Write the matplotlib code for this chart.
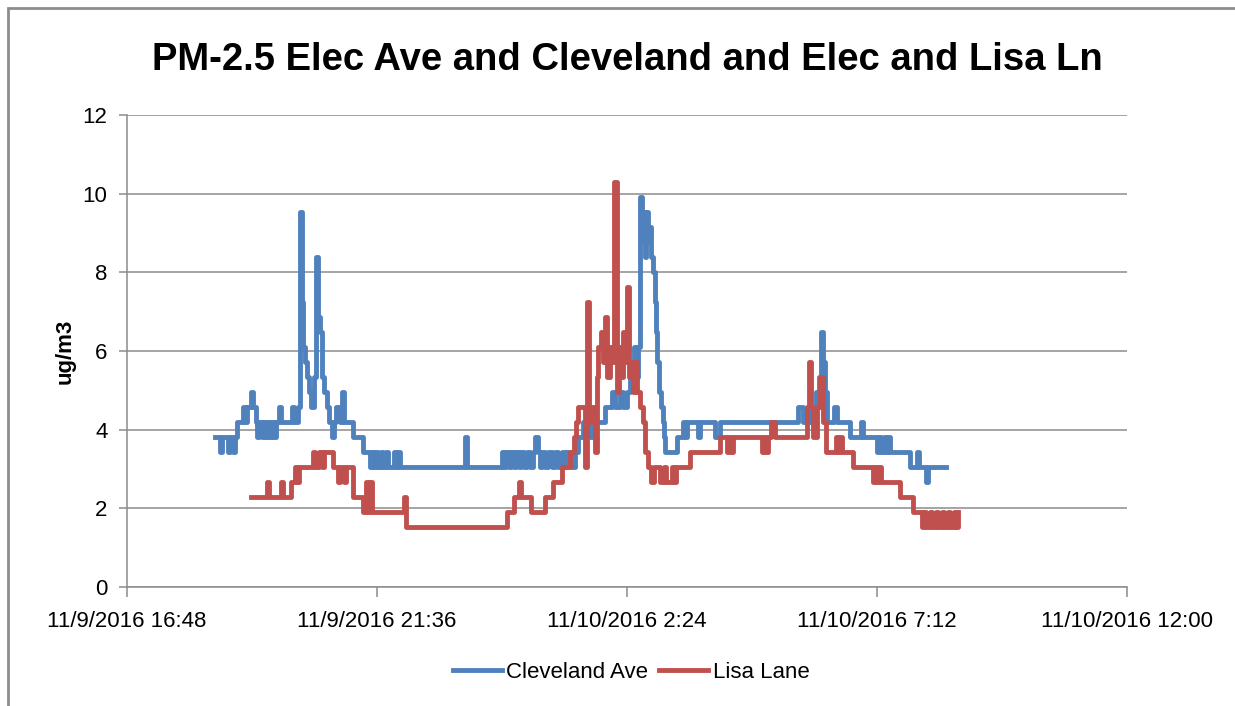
import datetime as dt
import matplotlib
matplotlib.use('Agg')
import matplotlib.pyplot as plt
import matplotlib.dates as mdates
from matplotlib.patches import Rectangle
from matplotlib.ticker import FuncFormatter

# time axis: minutes after 11/9/2016 16:48
START = dt.datetime(2016, 11, 9, 16, 48)

cleveland_min = [101, 107, 109, 116, 119, 122, 124, 127, 134, 136, 138, 143, 145, 149, 150,
                 152, 156, 158, 160, 162, 165, 167, 169, 172, 175, 177, 190, 192, 197, 199,
                 202, 203, 205, 207, 210, 212, 215, 218, 220, 222, 225, 227, 230, 233, 236,
                 238, 241, 245, 248, 250, 260, 272, 280, 282, 285, 287, 289, 293, 295, 298,
                 301, 308, 310, 312, 314, 389, 392, 432, 434, 437, 440, 442, 446, 448, 452,
                 454, 457, 461, 464, 468, 470, 473, 476, 478, 482, 485, 490, 493, 497, 501,
                 505, 507, 513, 516, 520, 525, 529, 533, 536, 551, 559, 562, 568, 571, 576,
                 579, 584, 586, 589, 591, 593, 594, 597, 598, 600, 601, 604, 606, 608, 609,
                 611, 613, 615, 617, 619, 620, 634, 641, 643, 645, 658, 660, 677, 683, 773,
                 779, 785, 787, 794, 797, 800, 802, 804, 806, 814, 818, 833, 846, 848, 864,
                 866, 869, 872, 874, 877, 879, 902, 910, 912, 920, 923, 943]
cleveland_val = [3.82, 3.44, 3.82, 3.44, 3.82, 3.44, 3.82, 4.2, 4.58, 4.2, 4.58, 4.96, 4.58, 4.2, 3.82,
                 4.2, 3.82, 4.2, 3.82, 4.2, 3.82, 4.2, 3.82, 4.2, 4.58, 4.2, 4.58, 4.2, 4.58, 9.54,
                 7.25, 6.11, 5.73, 5.35, 4.96, 4.58, 5.35, 8.4, 6.87, 6.49, 5.35, 4.96, 4.58, 4.2, 3.82,
                 4.2, 4.58, 4.2, 4.96, 4.2, 3.82, 3.44, 3.05, 3.44, 3.05, 3.44, 3.05, 3.44, 3.05, 3.44,
                 3.05, 3.44, 3.05, 3.44, 3.05, 3.82, 3.05, 3.44, 3.05, 3.44, 3.05, 3.44, 3.05, 3.44, 3.05,
                 3.44, 3.05, 3.44, 3.05, 3.44, 3.82, 3.44, 3.05, 3.44, 3.05, 3.44, 3.05, 3.44, 3.05, 3.44,
                 3.05, 3.44, 3.05, 3.44, 3.82, 4.2, 4.58, 3.82, 4.2, 4.58, 4.96, 4.58, 4.96, 4.58, 4.96,
                 5.73, 6.11, 5.35, 6.11, 9.92, 8.78, 9.54, 8.4, 9.54, 8.78, 9.16, 8.4, 8.02, 7.25, 6.49,
                 5.73, 4.96, 4.58, 4.2, 3.82, 3.44, 3.82, 4.2, 3.82, 4.2, 3.82, 4.2, 3.82, 4.2, 4.58,
                 4.2, 4.58, 4.2, 4.96, 5.35, 6.49, 5.73, 4.96, 4.2, 4.58, 4.2, 3.82, 4.2, 3.82, 3.44,
                 3.82, 3.44, 3.82, 3.44, 3.82, 3.44, 3.05, 3.44, 3.05, 2.67, 3.05, 3.05]

lisa_min = [143, 161, 164, 177, 180, 189, 194, 196, 198, 214, 217, 221, 225, 227, 237,
            243, 245, 250, 252, 260, 272, 275, 278, 280, 282, 319, 321, 438, 446, 452,
            454, 465, 482, 491, 501, 510, 515, 517, 520, 528, 530, 532, 536, 539, 541,
            543, 546, 548, 551, 553, 556, 559, 561, 564, 567, 569, 571, 574, 576, 578,
            581, 583, 585, 588, 591, 594, 597, 600, 604, 607, 614, 619, 621, 628, 630,
            632, 649, 683, 691, 694, 696, 698, 732, 734, 736, 738, 742, 747, 783, 786,
            788, 790, 795, 798, 802, 805, 817, 819, 821, 824, 836, 859, 862, 864, 866,
            869, 891, 905, 916, 918, 920, 925, 927, 932, 934, 939, 941, 946, 948, 953,
            955, 957]
lisa_val = [2.29, 2.67, 2.29, 2.67, 2.29, 2.67, 3.05, 2.67, 3.05, 3.44, 3.05, 3.44, 3.05, 3.44, 3.05,
            2.67, 3.05, 2.67, 3.05, 2.29, 1.91, 2.67, 1.91, 2.67, 1.91, 2.29, 1.53, 1.91, 2.29, 2.67,
            2.29, 1.91, 2.29, 2.67, 3.05, 3.44, 3.82, 4.2, 4.58, 3.05, 7.25, 4.2, 4.58, 3.44, 5.35,
            6.11, 6.49, 5.73, 6.87, 5.35, 6.11, 5.73, 10.3, 4.96, 6.11, 5.35, 6.49, 5.73, 7.63, 5.35,
            5.73, 4.96, 5.73, 4.96, 4.58, 4.2, 3.44, 3.05, 2.67, 3.05, 2.67, 3.05, 2.67, 3.05, 2.67,
            3.05, 3.44, 3.82, 3.44, 3.82, 3.44, 3.82, 3.44, 3.82, 3.44, 3.82, 4.2, 3.82, 4.58, 5.73,
            4.58, 3.82, 4.58, 5.35, 4.2, 3.44, 3.82, 3.44, 3.82, 3.44, 3.05, 2.67, 3.05, 2.67, 3.05,
            2.67, 2.29, 1.91, 1.53, 1.91, 1.53, 1.91, 1.53, 1.91, 1.53, 1.91, 1.53, 1.91, 1.53, 1.91,
            1.53, 1.91]

x_ticks_min = [0, 288, 576, 864, 1152]

BLUE = '#4F81BD'
RED = '#C0504D'
GRID = '#8C8C8C'

plt.rcParams['font.family'] = ['Liberation Sans', 'DejaVu Sans']


def to_times(mins):
    return [START + dt.timedelta(minutes=m) for m in mins]


def fmt_date(x, pos):
    d = mdates.num2date(x)
    return f'{d.month}/{d.day}/{d.year} {d.hour}:{d.minute:02d}'


fig = plt.figure(figsize=(12.35, 7.06), dpi=100)
ax = fig.add_axes([127 / 1235, 1 - 587 / 706, 1000 / 1235, 472 / 706])

ax.plot(to_times(cleveland_min), cleveland_val, color=BLUE, lw=3.5,
        drawstyle='steps-post', label='Cleveland Ave', solid_joinstyle='round')
ax.plot(to_times(lisa_min), lisa_val, color=RED, lw=3.5,
        drawstyle='steps-post', label='Lisa Lane', solid_joinstyle='round')

ax.set_ylim(0, 12)
ax.set_yticks(range(0, 13, 2))
tick_times = to_times(x_ticks_min)
ax.set_xlim(tick_times[0], tick_times[-1])
ax.set_xticks(tick_times)
ax.xaxis.set_major_formatter(FuncFormatter(fmt_date))

ax.grid(axis='y', color=GRID, lw=1.1)
ax.set_axisbelow(True)
for side in ['top', 'right']:
    ax.spines[side].set_visible(False)
for side in ['left', 'bottom']:
    ax.spines[side].set_color(GRID)
    ax.spines[side].set_linewidth(1.1)
ax.tick_params(axis='y', length=6, width=1.1, color=GRID, labelsize=16, pad=8)
ax.tick_params(axis='x', length=7, width=1.1, color=GRID, labelsize=16, pad=10)

ax.set_ylabel('ug/m3', fontsize=16, fontweight='bold', labelpad=5)
fig.suptitle('PM-2.5 Elec Ave and Cleveland and Elec and Lisa Ln', x=627 / 1235,
             y=1 - 60 / 706, va='center', fontsize=27.5, fontweight='bold')

ax.legend(loc='center', bbox_to_anchor=(631 / 1235, 1 - 672 / 706),
          bbox_transform=fig.transFigure, ncol=2, frameon=False, fontsize=16,
          handlelength=2.2, handletextpad=0.2, columnspacing=0.5)

# chart area border (only top and left edges are visible in the capture)
fig.patches.append(Rectangle((8 / 1235, -0.1), 2, 1.1 - 8 / 706, transform=fig.transFigure,
                             fill=False, edgecolor='#8C8C8C', lw=2))

fig.savefig('out.png', dpi=100)
